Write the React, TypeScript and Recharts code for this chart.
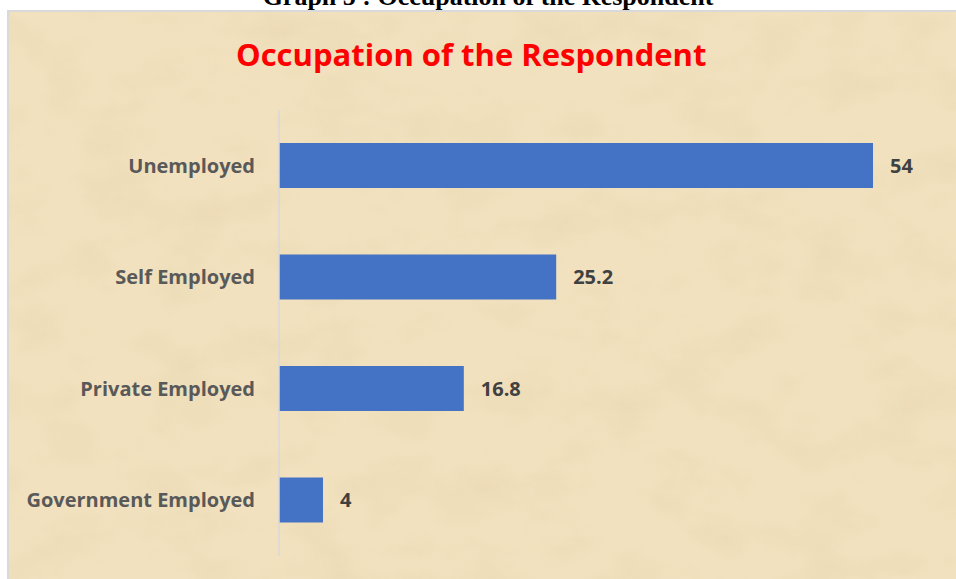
import React from "react";
import { BarChart, Bar, XAxis, YAxis, LabelList } from "recharts";

const categories = ["Unemployed", "Self Employed", "Private Employed", "Government Employed"];
const percents = [54, 25.2, 16.8, 4];
const xDomain = [0, 60];

const data = categories.map((name, i) => ({ name, value: percents[i] }));

const FONT = "'Open Sans', sans-serif";

function Parchment() {
  return (
    <svg width={960} height={580} style={{ position: "absolute", left: 0, top: 0 }}>
      <defs>
        <filter id="paper" x="0" y="0" width="100%" height="100%">
          <feTurbulence type="fractalNoise" baseFrequency="0.014 0.022" numOctaves={4} seed={7} result="noise" />
          <feColorMatrix
            in="noise"
            type="matrix"
            values="0 0 0 0 0.78  0 0 0 0 0.64  0 0 0 0 0.40  0 0 0 -1.8 1.0"
          />
        </filter>
      </defs>
      <rect width={960} height={580} fill="#F1E1BE" />
      <rect width={960} height={580} filter="url(#paper)" opacity={0.45} />
    </svg>
  );
}

export default function App() {
  return (
    <div style={{ position: "fixed", left: 0, top: 0, width: 956, height: 579, overflow: "hidden", background: "#fff" }}>
      <div
        style={{
          position: "absolute",
          top: -16,
          left: 0,
          width: 976,
          textAlign: "center",
          fontFamily: "'Liberation Serif', 'Times New Roman', serif",
          fontWeight: 700,
          fontSize: 26,
          lineHeight: "26px",
          color: "#000",
        }}
      >
        Graph 5 : Occupation of the Respondent
      </div>
      <div
        style={{
          position: "absolute",
          left: 7,
          top: 10,
          width: 960,
          height: 580,
          borderLeft: "2px solid #D9D9D9",
          borderTop: "2px solid #D9D9D9",
          overflow: "hidden",
        }}
      >
        <Parchment />
        <div
          style={{
            position: "absolute",
            left: 227,
            top: 21,
            fontFamily: FONT,
            fontWeight: 700,
            fontSize: 31,
            color: "#FF0000",
            whiteSpace: "nowrap",
          }}
        >
          Occupation of the Respondent
        </div>
        <div style={{ position: "absolute", left: 0, top: 0 }}>
          <BarChart
            width={960}
            height={580}
            data={data}
            layout="vertical"
            margin={{ top: 98, right: 30, bottom: 36, left: 0 }}
          >
            <XAxis type="number" domain={xDomain} hide />
            <YAxis
              type="category"
              dataKey="name"
              width={270}
              tickSize={0}
              tickMargin={24}
              tickLine={false}
              axisLine={{ stroke: "#D9D9D9", strokeWidth: 1.5 }}
              tick={{ fontFamily: FONT, fontWeight: 700, fontSize: 20, fill: "#595959" }}
            />
            <Bar dataKey="value" fill="#4472C4" barSize={45} isAnimationActive={false}>
              <LabelList
                dataKey="value"
                position="right"
                offset={17}
                style={{ fontFamily: FONT, fontWeight: 700, fontSize: 20, fill: "#404040" }}
              />
            </Bar>
          </BarChart>
        </div>
      </div>
    </div>
  );
}
